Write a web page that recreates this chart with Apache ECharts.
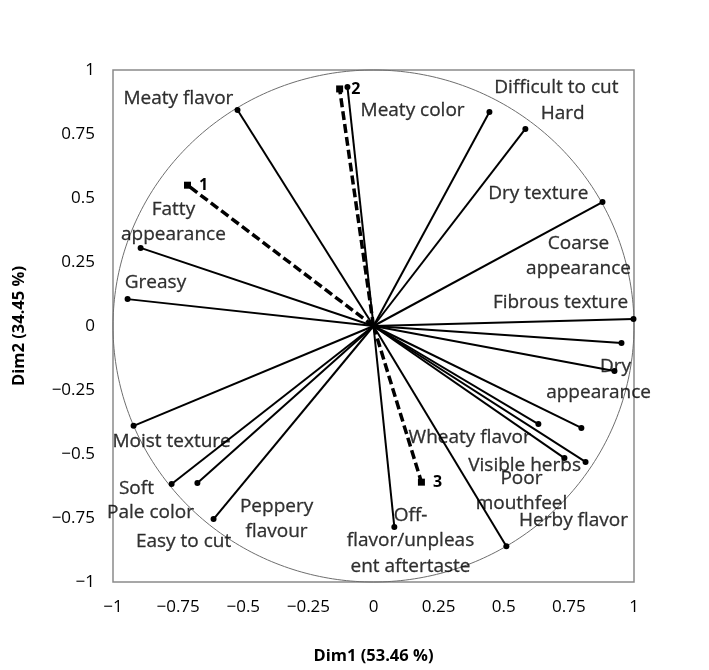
<!DOCTYPE html>
<html><head><meta charset="utf-8">
<script src="https://cdn.jsdelivr.net/npm/echarts@6/dist/echarts.min.js"></script>
<style>html,body{margin:0;padding:0;background:#fff}#c{width:709px;height:670px}</style>
</head><body><div id="c"></div>
<script>
// Variable loadings (Dim1, Dim2)
const varNames = ['Meaty flavor','Meaty color','Difficult to cut','Hard','Dry texture','Fibrous texture',
  'Coarse appearance','Dry appearance','Fatty appearance','Greasy','Wheaty flavor','Poor mouthfeel',
  'Visible herbs','Herby flavor2','Herby flavor','Off-flavor/unpleasent aftertaste','Moist texture','Soft','Pale color','Peppery flavour'];
const varX = [-0.522,-0.100,0.445,0.583,0.879,0.998,0.952,0.925,-0.894,-0.944,0.633,0.798,0.733,0.814,0.510,0.080,-0.921,-0.775,-0.676,-0.614];
const varY = [0.844,0.934,0.836,0.770,0.484,0.027,-0.066,-0.176,0.305,0.105,-0.383,-0.398,-0.516,-0.531,-0.860,-0.785,-0.390,-0.617,-0.613,-0.754];
// Observations (dashed)
const obsNames = ['1','2','3'];
const obsX = [-0.714,-0.130,0.184];
const obsY = [0.550,0.926,-0.610];
// Tick labels
const tickValues = [-1,-0.75,-0.5,-0.25,0,0.25,0.5,0.75,1];
const tickLabels = ['\u22121','\u22120.75','\u22120.5','\u22120.25','0','0.25','0.5','0.75','1'];
// Text labels of variables
const labelTexts = ['Meaty flavor','Meaty color','Difficult to cut','Hard','Dry texture','Coarse\nappearance',
  'Fibrous texture','Fatty\nappearance','Greasy','Dry','appearance','Wheaty flavor','Visible herbs','Poor\nmouthfeel',
  'Herby flavor','Moist texture','Soft','Pale color','Easy to cut','Peppery\nflavour','Off-\nflavor/unpleas\nent aftertaste'];
// label anchor positions (layout, in axis units)
const labelX = [-0.749,0.150,0.702,0.726,0.633,0.787,0.718,-0.768,-0.837,0.929,0.864,0.369,0.580,0.568,0.768,-0.775,-0.910,-0.856,-0.729,-0.372,0.142];
const labelY = [0.887,0.840,0.930,0.828,0.516,0.273,0.090,0.406,0.168,-0.160,-0.262,-0.4375,-0.547,-0.645,-0.762,-0.453,-0.637,-0.730,-0.844,-0.754,-0.840];

const FONT = '"Open Sans"';
const series = [];
// circle guide
series.push({
  type:'custom', data:[[0,0]], silent:true, z:1,
  renderItem:function(params, api){
    const pts=[];
    for(let i=0;i<=360;i++){const t=i*Math.PI/180;pts.push(api.coord([Math.cos(t),Math.sin(t)]));}
    return {type:'polyline', shape:{points:pts}, style:{stroke:'#6e6e6e', lineWidth:1, fill:null}};
  }
});
varNames.forEach((n,i)=>{
  series.push({
    type:'line', name:n, z:3, silent:true,
    data:[{value:[0,0],symbol:'none'},{value:[varX[i],varY[i]],symbol:'circle',symbolSize:6}],
    lineStyle:{color:'#000',width:2}, itemStyle:{color:'#000'}, showSymbol:true
  });
});
obsNames.forEach((n,i)=>{
  series.push({
    type:'line', name:'obs'+n, z:4, silent:true,
    data:[{value:[0,0],symbol:'none'},{value:[obsX[i],obsY[i]],symbol:'rect',symbolSize:7,
      label:{show:true,formatter:n,position:'right',distance:8,fontWeight:'bold',fontSize:16,color:'#000',fontFamily:FONT}}],
    lineStyle:{color:'#000',width:3.5,type:[9,4]}, itemStyle:{color:'#000'}, showSymbol:true
  });
});
series.push({
  type:'scatter', z:5, silent:true, symbolSize:0,
  data: labelTexts.map((t,i)=>({name:t,value:[labelX[i],labelY[i]]})),
  label:{show:true,position:'inside',formatter:'{b}',color:'#000',fontSize:19,lineHeight:25.5,fontFamily:FONT,align:'center',
    textBorderColor:'#000',textBorderWidth:0.3}
});

const axisCommon = {
  type:'value', min:-1, max:1, interval:0.25,
  axisLine:{show:false}, axisTick:{show:false}, splitLine:{show:false},
  nameLocation:'middle', nameTextStyle:{fontWeight:'bold',fontSize:16.5,color:'#000',fontFamily:FONT}
};
function fmt(v){const k=tickValues.findIndex(t=>Math.abs(t-v)<1e-6);return k>=0?tickLabels[k]:'';}
const chart = echarts.init(document.getElementById('c'));
chart.setOption({
  animation:false,
  backgroundColor:'#fff',
  grid:{left:113,right:75,top:70,bottom:88,show:true,borderColor:'#8a8a8a',borderWidth:1.5,containLabel:false,outerBoundsMode:'none'},
  xAxis:Object.assign({},axisCommon,{name:'Dim1 (53.46 %)',nameGap:66,
    axisLabel:{formatter:fmt,fontSize:17,color:'#000',margin:17,fontFamily:FONT,hideOverlap:false}}),
  yAxis:Object.assign({},axisCommon,{name:'Dim2 (34.45 %)',nameGap:85,
    axisLabel:{formatter:fmt,fontSize:17,color:'#000',margin:18,fontFamily:FONT,hideOverlap:false}}),
  series:series
});
</script></body></html>
